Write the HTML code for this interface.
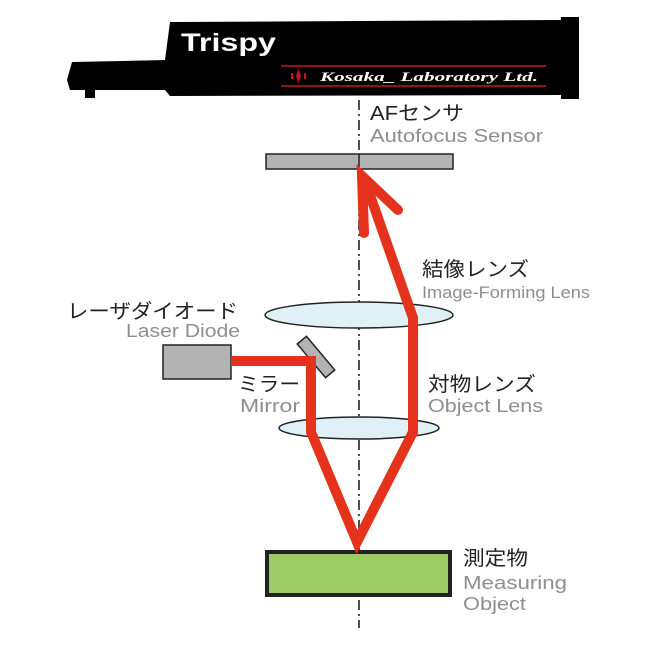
<!DOCTYPE html>
<html><head><meta charset="utf-8"><style>
html,body{margin:0;padding:0;background:#fff;width:650px;height:650px;overflow:hidden}
svg{display:block}
.jp{font-family:"Liberation Sans","Noto Sans CJK JP",sans-serif;fill:#222}
.en{font-family:"Liberation Sans",sans-serif;fill:#8e8e8e}
</style></head><body>
<svg width="650" height="650" viewBox="0 0 650 650" xmlns="http://www.w3.org/2000/svg">
<!-- header -->
<path d="M170,22 L565,20 L565,95 L170,96 L165,90 L165,60 Z" fill="#000"/>
<path d="M72,62 L168,60 L168,90 L95,90 L95,98 L85,98 L85,90 L70,90 L67,80 Z" fill="#000"/>
<rect x="561" y="17" width="18" height="82" fill="#000"/>
<text x="181" y="51" font-family="Liberation Sans,sans-serif" font-weight="bold" font-size="25" fill="#fff" textLength="95" lengthAdjust="spacingAndGlyphs">Trispy</text>
<line x1="281" y1="66" x2="546" y2="66" stroke="#c8161d" stroke-width="1.5"/>
<line x1="281" y1="86" x2="546" y2="86" stroke="#c8161d" stroke-width="1.5"/>
<path d="M296,76 L298.5,69 L301,76 L298.5,83 Z" fill="#c8161d"/>
<rect x="291" y="73" width="2" height="6" fill="#c8161d"/><rect x="304" y="73" width="2" height="6" fill="#c8161d"/>
<text x="320" y="81" font-family="Liberation Serif,serif" font-style="italic" font-weight="bold" font-size="13" fill="#fff" textLength="218" lengthAdjust="spacingAndGlyphs">Kosaka_ Laboratory Ltd.</text>
<!-- axis -->
<line x1="359" y1="100" x2="359" y2="628" stroke="#222" stroke-width="1.6" stroke-dasharray="10,4,2,4"/>
<!-- sensor -->
<rect x="266" y="154" width="187" height="15" fill="#b3b3b3" stroke="#222" stroke-width="1.5"/>
<line x1="359" y1="154" x2="359" y2="169" stroke="#222" stroke-width="1.5"/>
<!-- lenses -->
<ellipse cx="359" cy="315" rx="94" ry="13" fill="#dff0f6" stroke="#222" stroke-width="1.5"/>
<ellipse cx="359" cy="428" rx="80" ry="11" fill="#dff0f6" stroke="#222" stroke-width="1.5"/>
<!-- laser box -->
<rect x="163" y="345" width="68" height="34" fill="#b3b3b3" stroke="#222" stroke-width="1.5"/>
<!-- mirror -->
<rect x="-6" y="-22" width="12" height="44" fill="#b3b3b3" stroke="#222" stroke-width="1.5" transform="translate(316,357) rotate(-40)"/>
<!-- object -->
<rect x="267" y="552" width="183" height="43" fill="#9dcc64" stroke="#222" stroke-width="4"/>
<!-- red beam -->
<polyline points="231,361 311,361 311,432 357,542 413,432 413,318 364,178" fill="none" stroke="#e5321c" stroke-width="10" stroke-linejoin="miter"/>
<polyline points="364,233 362,176 398,210" fill="none" stroke="#e5321c" stroke-width="10" stroke-linecap="round" stroke-linejoin="miter"/>
<!-- labels -->
<text class="jp" x="370" y="120" font-size="20" textLength="94" lengthAdjust="spacingAndGlyphs">AFセンサ</text>
<text class="en" x="370" y="142" font-size="18" textLength="173" lengthAdjust="spacingAndGlyphs">Autofocus Sensor</text>
<text class="jp" x="422" y="276" font-size="20" textLength="107" lengthAdjust="spacingAndGlyphs">結像レンズ</text>
<text class="en" x="422" y="298" font-size="17" textLength="168" lengthAdjust="spacingAndGlyphs">Image-Forming Lens</text>
<text class="jp" x="67" y="318" font-size="20" textLength="171" lengthAdjust="spacingAndGlyphs">レーザダイオード</text>
<text class="en" x="126" y="337" font-size="18" textLength="114" lengthAdjust="spacingAndGlyphs">Laser Diode</text>
<text class="jp" x="238" y="391" font-size="20" textLength="62" lengthAdjust="spacingAndGlyphs">ミラー</text>
<text class="en" x="240" y="412" font-size="18" textLength="60" lengthAdjust="spacingAndGlyphs">Mirror</text>
<text class="jp" x="428" y="391" font-size="20" textLength="108" lengthAdjust="spacingAndGlyphs">対物レンズ</text>
<text class="en" x="428" y="412" font-size="18" textLength="115" lengthAdjust="spacingAndGlyphs">Object Lens</text>
<text class="jp" x="463" y="565" font-size="20" textLength="65" lengthAdjust="spacingAndGlyphs">測定物</text>
<text class="en" x="463" y="589" font-size="18" textLength="104" lengthAdjust="spacingAndGlyphs">Measuring</text>
<text class="en" x="463" y="610" font-size="18" textLength="63" lengthAdjust="spacingAndGlyphs">Object</text>
</svg>
</body></html>
